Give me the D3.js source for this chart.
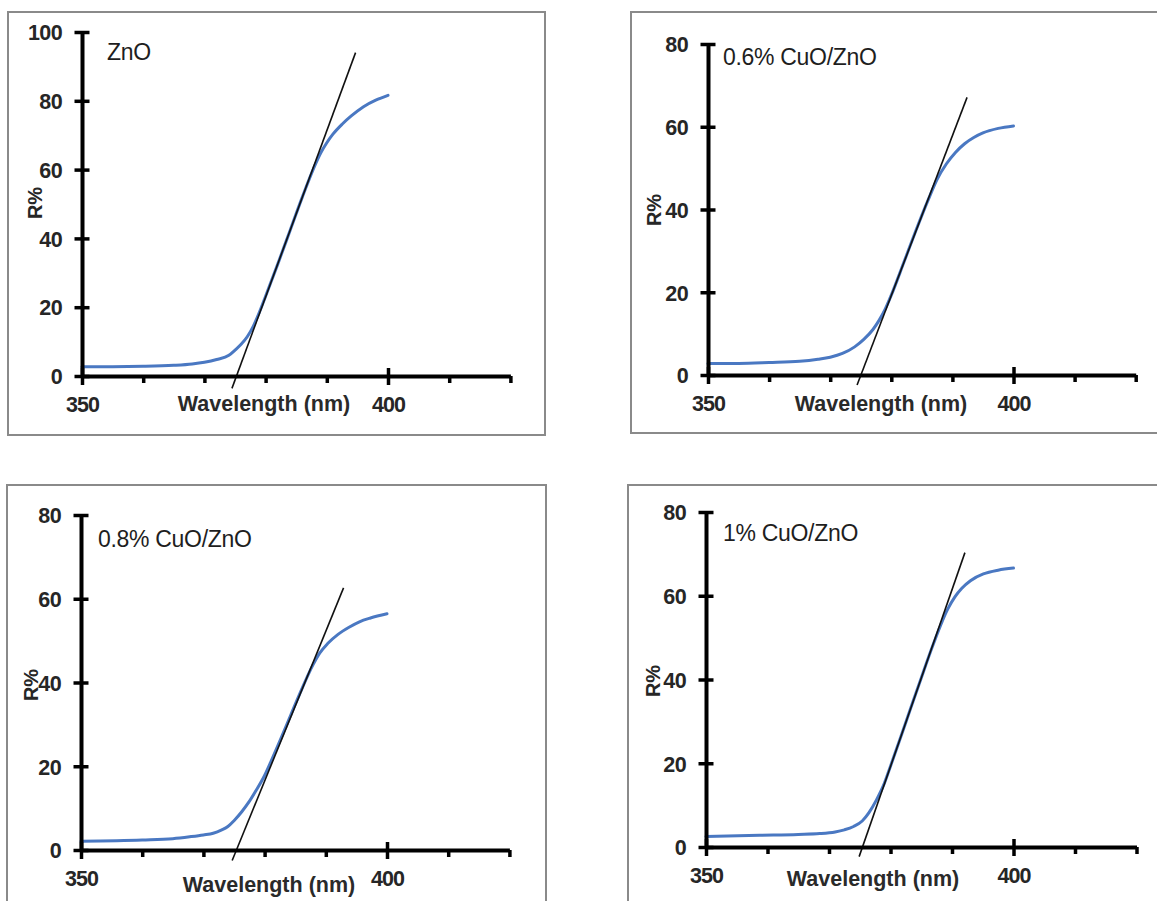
<!DOCTYPE html>
<html>
<head>
<meta charset="utf-8">
<script src="https://cdn.jsdelivr.net/npm/d3@7"></script>
<style>
  html, body { margin: 0; padding: 0; background: #fff; }
  svg { display: block; }
</style>
</head>
<body>
<svg id="chart" width="1157" height="901"></svg>
<script>
// ---------------- DATA ----------------
const panelTitles = ["ZnO", "0.6% CuO/ZnO", "0.8% CuO/ZnO", "1% CuO/ZnO"];
const xAxisTitle = "Wavelength (nm)";
const yAxisTitle = "R%";

const xTickValues = [350, 360, 370, 380, 390, 400, 410, 420];
const xTickLabels = ["350", "400"];
const xDomain = [350, 420];

const yMaxes = [100, 80, 80, 80];
const yTicks100 = [0, 20, 40, 60, 80, 100];
const yTicks80 = [0, 20, 40, 60, 80];

// ZnO
const wlZnO = [350,355,360,365,368,370,372,374,375,376,377,378,379,380,382,384,386,388,389,390,391,392.5,394,396,398,400];
const rZnO  = [2.7,2.7,2.8,3.1,3.5,4.0,4.8,6.0,7.5,9.2,11.4,14.5,18.6,23.2,32.6,42.3,52,61,64.8,67.8,70.3,73.2,75.6,78.3,80.2,81.6];
const tanZnOx = [374.5, 394.7];
const tanZnOy = [-3.6, 94];

// 0.6% CuO/ZnO
const wlCu06 = [350,355,360,365,368,370,372,374,375.5,377,378,379,380,382,384,386,387.5,389,390.5,392,393.5,395,397.5,400];
const rCu06  = [2.8,2.8,3.0,3.3,3.8,4.3,5.2,6.8,8.6,11.0,13.2,15.9,19.3,27.0,34.8,42.2,47.3,51.0,53.8,55.9,57.4,58.5,59.6,60.2];
const tanCu06x = [374.4, 392.4];
const tanCu06y = [-2.4, 67.1];

// 0.8% CuO/ZnO
const wlCu08 = [350,360,365,368,370,371.6,373,374,375,376.3,377.5,378.6,380,381,383.3,385.6,387.9,389,390.3,392,393.8,395.5,397.3,400];
const rCu08  = [2.1,2.4,2.7,3.2,3.6,4.0,4.8,5.6,7.0,9.2,11.6,14.2,17.8,21.0,28.8,36.8,44.2,47.0,49.3,51.5,53.2,54.5,55.4,56.4];
const tanCu08x = [374.7, 392.9];
const tanCu08y = [-2.5, 62.6];

// 1% CuO/ZnO
const wlCu10 = [350,358.7,365,368.5,371,372.5,374,375.4,376.5,377.7,379,380,382.4,384.7,387,389.3,390.5,391.6,393,395.1,397.5,400];
const rCu10  = [2.5,2.8,3.0,3.2,3.6,4.1,4.9,6.2,8.2,11.2,15.2,19.3,29.4,39.1,48.6,56.8,59.8,61.8,63.6,65.2,66.1,66.6];
const tanCu10x = [374.9, 392.1];
const tanCu10y = [-2.3, 70.3];

const seriesX = [wlZnO, wlCu06, wlCu08, wlCu10];
const seriesY = [rZnO, rCu06, rCu08, rCu10];
const tangentX = [tanZnOx, tanCu06x, tanCu08x, tanCu10x];
const tangentY = [tanZnOy, tanCu06y, tanCu08y, tanCu10y];

// ---------------- LAYOUT (pixels) ----------------
const layout = [
  { frame: [8, 12, 545, 435],    x350: 82,  x400: 388,    y0: 376, yTop: 32,  title: [107, 60],  ylab: [35, 203],  xlab: [264, 411] },
  { frame: [631, 12, 1200, 433], x350: 708, x400: 1013.5, y0: 375, yTop: 44,  title: [723, 65],  ylab: [654, 210], xlab: [881, 411] },
  { frame: [7, 485, 546, 960],   x350: 81,  x400: 387,    y0: 850, yTop: 515, title: [98, 547],  ylab: [31, 685],  xlab: [269, 892] },
  { frame: [628, 485, 1200, 960], x350: 706, x400: 1013.5, y0: 847, yTop: 512, title: [723, 541], ylab: [653, 681], xlab: [873, 886] }
];

const FONT = "'Liberation Sans', Arial, Helvetica, sans-serif";
const svg = d3.select("#chart");
svg.append("rect").attr("width", 1157).attr("height", 901).attr("fill", "#fff");

layout.forEach((L, i) => {
  const g = svg.append("g");
  // frame
  g.append("rect")
    .attr("x", L.frame[0]).attr("y", L.frame[1])
    .attr("width", L.frame[2] - L.frame[0]).attr("height", L.frame[3] - L.frame[1])
    .attr("fill", "#fff").attr("stroke", "#8a8a8a").attr("stroke-width", 2);

  const pxPerNm = (L.x400 - L.x350) / 50;
  const x = d3.scaleLinear().domain(xDomain).range([L.x350, L.x350 + pxPerNm * (xDomain[1] - xDomain[0])]);
  const y = d3.scaleLinear().domain([0, yMaxes[i]]).range([L.y0, L.yTop]);

  // curve
  const pts = seriesX[i].map((d, k) => [d, seriesY[i][k]]);
  g.append("path")
    .attr("d", d3.line().x(d => x(d[0])).y(d => y(d[1])).curve(d3.curveMonotoneX)(pts))
    .attr("fill", "none").attr("stroke", "#4a78c2").attr("stroke-width", 3)
    .attr("stroke-linecap", "round");

  // tangent line
  const tpts = tangentX[i].map((d, k) => [d, tangentY[i][k]]);
  g.append("path")
    .attr("d", d3.line().x(d => x(d[0])).y(d => y(d[1]))(tpts))
    .attr("fill", "none").attr("stroke", "#111").attr("stroke-width", 1.6);

  // y axis
  const yTicks = yMaxes[i] === 100 ? yTicks100 : yTicks80;
  const gy = g.append("g").attr("transform", `translate(${L.x350},0)`)
    .call(d3.axisLeft(y).tickValues(yTicks).tickSizeOuter(0));
  gy.select(".domain").attr("stroke", "#000").attr("stroke-width", 4);
  gy.selectAll(".tick line").attr("x1", 7.5).attr("x2", -7.5).attr("stroke", "#000").attr("stroke-width", 3.5);
  gy.selectAll(".tick text")
    .attr("x", -20).attr("dy", "0.36em")
    .attr("text-anchor", "end")
    .style("font-family", FONT).style("font-size", "21.5px").style("font-weight", "bold")
    .style("letter-spacing", "-0.6px")
    .attr("fill", "#262626");

  // x axis
  const gx = g.append("g").attr("transform", `translate(0,${L.y0})`)
    .call(d3.axisBottom(x).tickValues(xTickValues)
      .tickFormat(d => xTickLabels.includes(String(d)) ? String(d) : "")
      .tickSizeOuter(0));
  gx.select(".domain").attr("stroke", "#000").attr("stroke-width", 4);
  gx.selectAll(".tick line")
    .attr("y1", d => xTickLabels.includes(String(d)) ? -8 : 0)
    .attr("y2", d => xTickLabels.includes(String(d)) ? 9 : 7)
    .attr("stroke", "#000").attr("stroke-width", 3.5);
  gx.selectAll(".tick text")
    .attr("y", 36).attr("dy", 0)
    .style("font-family", FONT).style("font-size", "21.5px").style("font-weight", "bold")
    .style("letter-spacing", "-0.9px")
    .attr("fill", "#262626");

  // x axis title
  g.append("text")
    .attr("x", L.xlab[0]).attr("y", L.xlab[1])
    .attr("text-anchor", "middle")
    .style("font-family", FONT).style("font-size", "21.5px").style("font-weight", "bold")
    .attr("fill", "#2a2a2a")
    .text(xAxisTitle);

  // y axis title
  g.append("text")
    .attr("transform", `translate(${L.ylab[0]},${L.ylab[1]}) rotate(-90)`)
    .attr("text-anchor", "middle").attr("dy", "0.36em")
    .style("font-family", FONT).style("font-size", "20px").style("font-weight", "bold")
    .attr("fill", "#262626")
    .text(yAxisTitle);

  // panel title
  g.append("text")
    .attr("x", L.title[0]).attr("y", L.title[1])
    .style("font-family", FONT).style("font-size", "23px")
    .style("letter-spacing", "-0.3px")
    .attr("fill", "#1e1e1e")
    .text(panelTitles[i]);
});
</script>
</body>
</html>
